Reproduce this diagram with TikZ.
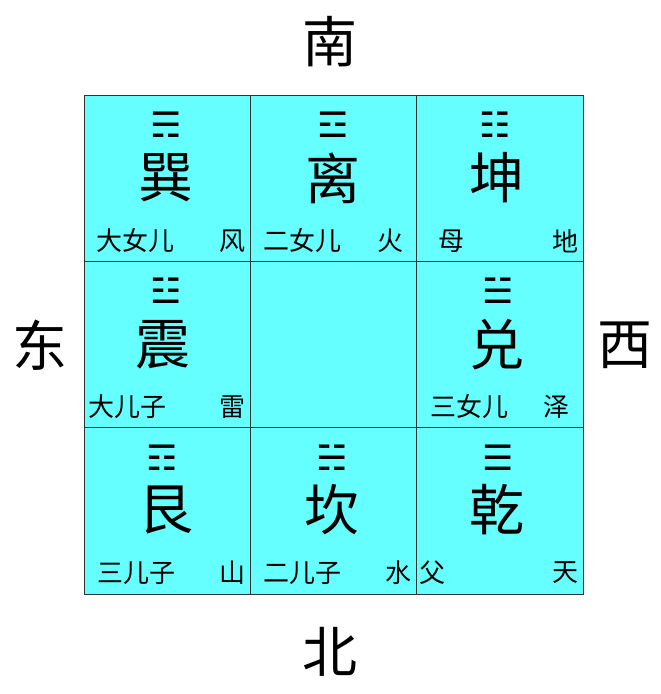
\documentclass[tikz,border=0pt]{standalone}
\usepackage{fontspec}
\setmainfont{Noto Sans CJK SC}
\newfontfamily\symfont{DejaVu Sans}
\begin{document}
\begin{tikzpicture}[x=1pt,y=-1pt,
  cellbox/.style={draw=black!80,line width=0.8pt,fill=cyanbg},
  big/.style={font=\fontsize{55}{55}\selectfont,inner sep=0pt},
  dirs/.style={font=\fontsize{55}{55}\selectfont,inner sep=0pt},
  lab/.style={font=\fontsize{26}{26}\selectfont,inner sep=0pt},
  tri/.style={font=\symfont\fontsize{35}{35}\selectfont,inner sep=0pt}]
\definecolor{cyanbg}{HTML}{66FFFF}
\useasboundingbox (0,0) rectangle (661,694);
\foreach \c in {0,1,2}{\foreach \r in {0,1,2}{
  \path[cellbox] (84+166.33*\c,95+166.33*\r) rectangle ++(166.33,166.33);}}
% directions
\node[dirs] (s) at (330,42) {南};
\node[dirs] (n) at (330,652) {北};
\node[dirs] (e) at (40,345) {东};
\node[dirs] (w) at (625,345) {西};
% row 1
\node[tri] (t1) at (166,125) {☴};
\node[big] (g1) at (166,178) {巽};
\node[lab,anchor=west] (l1) at (96,241) {大女儿};
\node[lab] (r1) at (232,241) {风};
\node[tri] (t2) at (333,125) {☲};
\node[big] (g2) at (333,178) {离};
\node[lab,anchor=west] (l2) at (263,241) {二女儿};
\node[lab] (r2) at (390,241) {火};
\node[tri] (t3) at (495,125) {☷};
\node[big] (g3) at (497,178) {坤};
\node[lab] (l3) at (451,241) {母};
\node[lab] (r3) at (565,241) {地};
% row 2
\node[tri] (t4) at (166,291) {☳};
\node[big] (g4) at (163,345) {震};
\node[lab,anchor=west] (l4) at (88,407) {大儿子};
\node[lab] (r4) at (232,407) {雷};
\node[tri] (t5) at (498,291) {☱};
\node[big] (g5) at (497,345) {兑};
\node[lab,anchor=west] (l5) at (430,407) {三女儿};
\node[lab] (r5) at (556,407) {泽};
% row 3
\node[tri] (t6) at (162,458) {☶};
\node[big] (g6) at (166,510) {艮};
\node[lab,anchor=west] (l6) at (97,573) {三儿子};
\node[lab] (r6) at (232,573) {山};
\node[tri] (t7) at (332,458) {☵};
\node[big] (g7) at (332,510) {坎};
\node[lab,anchor=west] (l7) at (263,573) {二儿子};
\node[lab] (r7) at (398,573) {水};
\node[tri] (t8) at (498,458) {☰};
\node[big] (g8) at (497,510) {乾};
\node[lab] (l8) at (432,573) {父};
\node[lab] (r8) at (565,573) {天};
\end{tikzpicture}
\end{document}
